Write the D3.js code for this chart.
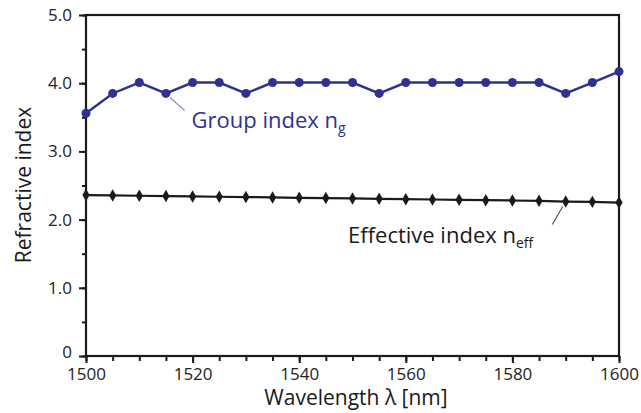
<!DOCTYPE html>
<html>
<head>
<meta charset="utf-8">
<script src="https://cdn.jsdelivr.net/npm/d3@7"></script>
<style>
  body { margin: 0; background: #fff; }
  svg text { font-family: "Open Sans", "Noto Sans", sans-serif; }
</style>
</head>
<body>
<div id="chart"></div>
<script>
// wavelengths (nm)
const wavelengths = [1500, 1505, 1510, 1515, 1520, 1525, 1530, 1535, 1540, 1545, 1550,
                     1555, 1560, 1565, 1570, 1575, 1580, 1585, 1590, 1595, 1600];
// group index n_g
const groupIndex = [3.56, 3.85, 4.01, 3.85, 4.01, 4.01, 3.85, 4.01, 4.01, 4.01, 4.01,
                    3.85, 4.01, 4.01, 4.01, 4.01, 4.01, 4.01, 3.85, 4.01, 4.17];
// effective index n_eff
const effIndex = [2.36, 2.355, 2.35, 2.345, 2.34, 2.335, 2.33, 2.325, 2.32, 2.315, 2.31,
                  2.305, 2.30, 2.295, 2.29, 2.285, 2.28, 2.275, 2.265, 2.26, 2.25];
const xTicks = [1500, 1520, 1540, 1560, 1580, 1600];
const yTicks = [0, 1, 2, 3, 4, 5];
const yTickLabels = ["0", "1.0", "2.0", "3.0", "4.0", "5.0"];

const blue = "#2e3192";
const ink = "#1a1a1a";
const width = 641, height = 413;
const margin = { top: 15, right: 22, bottom: 57, left: 86 };
const w = width - margin.left - margin.right;
const h = height - margin.top - margin.bottom;

const svg = d3.select("#chart").append("svg")
    .attr("width", width)
    .attr("height", height);

const g = svg.append("g")
    .attr("transform", `translate(${margin.left},${margin.top})`);

const x = d3.scaleLinear().domain([1500, 1600]).range([0, w]);
const y = d3.scaleLinear().domain([0, 5]).range([h, 0]);

// minor ticks
g.append("g")
    .attr("transform", `translate(0,${h})`)
    .call(d3.axisBottom(x).tickValues(d3.range(1500, 1601, 5)).tickSize(5).tickFormat(""))
    .call(a => a.select(".domain").remove())
    .selectAll("line").attr("stroke-width", 2).attr("stroke", ink);

g.append("g")
    .call(d3.axisLeft(y).tickValues(d3.range(0, 5.01, 0.5)).tickSize(4).tickFormat(""))
    .call(a => a.select(".domain").remove())
    .selectAll("line").attr("stroke-width", 2).attr("stroke", ink);

// major ticks + labels
const xAxis = g.append("g")
    .attr("transform", `translate(0,${h})`)
    .call(d3.axisBottom(x).tickValues(xTicks).tickSize(7).tickPadding(5).tickFormat(d3.format("d")));
xAxis.select(".domain").remove();
xAxis.selectAll("line").attr("stroke-width", 2).attr("stroke", ink);
xAxis.selectAll("text").attr("font-size", 17).attr("fill", "#222");

const yAxis = g.append("g")
    .call(d3.axisLeft(y).tickValues(yTicks).tickSize(7).tickPadding(7).tickFormat((d, i) => yTickLabels[i]));
yAxis.select(".domain").remove();
yAxis.selectAll("line").attr("stroke-width", 2).attr("stroke", ink);
yAxis.selectAll("text").attr("font-size", 17).attr("fill", "#222");
// lift the "0" a touch so it clears the 1500 label
yAxis.selectAll("text").filter(d => d === 0).attr("dy", "0.1em");

// frame
g.append("rect")
    .attr("x", 0).attr("y", 0)
    .attr("width", w).attr("height", h)
    .attr("fill", "none")
    .attr("stroke", ink)
    .attr("stroke-width", 2.2);

// group index line
const lineG = d3.line().x((d, i) => x(wavelengths[i])).y(d => y(d));
g.append("path")
    .datum(groupIndex)
    .attr("d", lineG)
    .attr("fill", "none")
    .attr("stroke", blue)
    .attr("stroke-width", 2.4);
g.selectAll(".gdot")
    .data(groupIndex)
    .enter()
    .append("circle")
    .attr("class", "gdot")
    .attr("cx", (d, i) => x(wavelengths[i]))
    .attr("cy", d => y(d))
    .attr("r", 4.5)
    .attr("fill", blue);

// effective index line
g.append("path")
    .datum(effIndex)
    .attr("d", lineG)
    .attr("fill", "none")
    .attr("stroke", ink)
    .attr("stroke-width", 2.2);
g.selectAll(".edot")
    .data(effIndex)
    .enter()
    .append("path")
    .attr("class", "edot")
    .attr("d", d3.symbol().type(d3.symbolDiamond).size(45))
    .attr("transform", (d, i) => `translate(${x(wavelengths[i])},${y(d)})`)
    .attr("fill", ink);

// annotations
g.append("line")
    .attr("x1", x(1515) + 4).attr("y1", y(3.85) + 4)
    .attr("x2", x(1518.5)).attr("y2", y(3.85) + 17)
    .attr("stroke", "#8f91c4").attr("stroke-width", 1.2);
const tG = g.append("text")
    .attr("x", x(1520) - 1).attr("y", 113)
    .attr("font-size", 22).attr("fill", blue);
tG.append("tspan").text("Group index n");
tG.append("tspan").text("g").attr("font-size", 14).attr("dy", 5);

g.append("line")
    .attr("x1", x(1590) - 3).attr("y1", y(2.265) + 5)
    .attr("x2", x(1587.5)).attr("y2", y(2.265) + 23)
    .attr("stroke", "#555").attr("stroke-width", 1.2);
const tE = g.append("text")
    .attr("x", 348 - margin.left).attr("y", 228)
    .attr("font-size", 22).attr("fill", ink);
tE.append("tspan").text("Effective index n");
tE.append("tspan").text("eff").attr("font-size", 14).attr("dy", 5);

// axis titles
svg.append("text")
    .attr("x", 356)
    .attr("y", 405)
    .attr("text-anchor", "middle")
    .attr("font-size", 21)
    .attr("fill", ink)
    .text("Wavelength λ [nm]");

svg.append("text")
    .attr("transform", `translate(31,185) rotate(-90)`)
    .attr("text-anchor", "middle")
    .attr("font-size", 21)
    .attr("fill", ink)
    .text("Refractive index");
</script>
</body>
</html>
